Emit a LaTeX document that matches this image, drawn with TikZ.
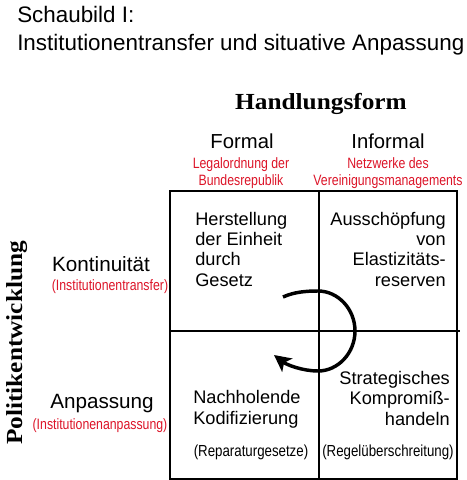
\documentclass[tikz,border=0pt]{standalone}
\usepackage{fontspec}
\setmainfont{Liberation Sans}
\newfontfamily\serifhead{Liberation Serif}
\usepackage{tikz}
\usetikzlibrary{positioning, arrows.meta}
\definecolor{anmred}{RGB}{220,20,40}
\newcommand{\anm}[1]{\scalebox{0.82}[1]{#1}}
\newcommand{\achse}[1]{\scalebox{1.1}[1]{#1}}

\begin{document}
\begin{tikzpicture}[x=0.75pt, y=-0.75pt,
    every node/.style={inner sep=0pt},
    titel/.style={anchor=base west, align=left, font=\fontsize{16.8}{21}\selectfont},
    achsentitel/.style={anchor=base, font=\fontsize{17.25}{20}\serifhead\bfseries},
    spalte/.style={anchor=base, font=\fontsize{15.2}{18}\selectfont},
    zeile/.style={anchor=base, font=\fontsize{15.5}{18}\selectfont},
    rot/.style={anchor=base, align=center, text=anmred, font=\fontsize{11.25}{12.75}\selectfont},
    feld/.style={font=\fontsize{13.65}{15.2}\selectfont},
    klammer/.style={anchor=base, font=\fontsize{12}{14}\selectfont},
    gitter/.style={line width=1.5pt},
    kreis/.style={line width=2.6pt, -{Stealth[length=12.5pt, width=12.5pt, inset=3pt]}}]
    \useasboundingbox (0,0) rectangle (467,480);

    \node (titel) at (17,50) [titel] {Schaubild I:\\Institutionentransfer und situative Anpassung};

    \node (handlung) at (321,109) [achsentitel] {\achse{Handlungsform}};
    \node (politik)  at (22,343)  [achsentitel, rotate=90] {\achse{Politikentwicklung}};

    \node (formal)   at (242,148) [spalte] {Formal};
    \node (informal) at (388,148) [spalte] {Informal};
    \node (legal)    at (241,185) [rot] {\anm{Legalordnung der}\\\anm{Bundesrepublik}};
    \node (netzwerk) at (388,185) [rot] {\anm{Netzwerke des}\\\anm{Vereinigungsmanagements}};

    \node (kontinuitaet) at (101,271) [zeile] {Kontinuität};
    \node (transfer)     at (110,290) [rot] {\anm{(Institutionentransfer)}};
    \node (anpassung)    at (102,408) [zeile] {Anpassung};
    \node (anpassunganm) at (100,429) [rot] {\anm{(Institutionenanpassung)}};

    \draw[gitter] (170,191) rectangle (457,479);
    \draw[gitter] (319,191) -- (319,479);
    \draw[gitter] (170,331) -- (460,331);

    \node (gesetz)     at (195,286) [feld, anchor=base west, align=left] {Herstellung\\der Einheit\\durch\\Gesetz};
    \node (elastizitaet) at (446,286) [feld, anchor=base east, align=right] {Ausschöpfung\\von\\Elastizitäts-\\reserven};
    \node (kodifizierung) at (193,424) [feld, anchor=base west, align=left] {Nachholende\\Kodifizierung};
    \node (kompromiss) at (450,425) [feld, anchor=base east, align=right] {Strategisches\\Kompromiß-\\handeln};
    \node (reparatur)  at (251,456) [klammer] {\scalebox{0.83}[1]{(Reparaturgesetze)}};
    \node (regel)      at (388,456) [klammer] {\scalebox{0.83}[1]{(Regelüberschreitung)}};

    \coordinate (kreisanfang) at (283,297);
    \coordinate (kreisende)   at (274,355);
    \draw[kreis] (kreisanfang) .. controls (294,292) and (306,291) .. (318,291)
        .. controls (338,291) and (355,309) .. (355,331)
        .. controls (355,353) and (338,371) .. (318,371)
        .. controls (303,371) and (287,365) .. (kreisende);
\end{tikzpicture}
\end{document}
